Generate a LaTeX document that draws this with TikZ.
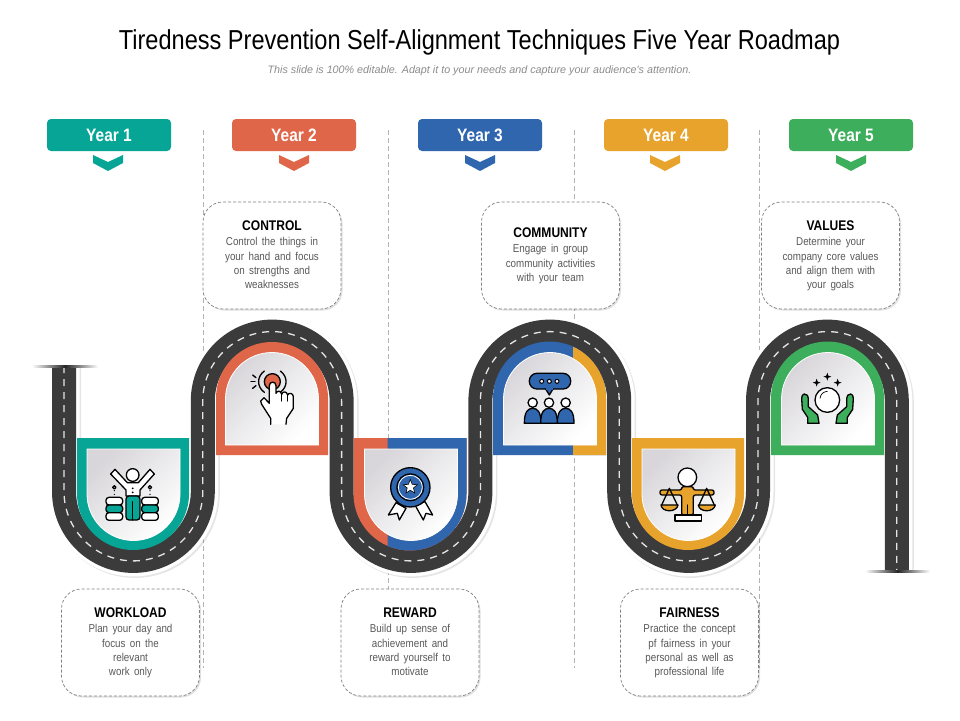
\documentclass[tikz,border=0pt]{standalone}
\usepackage{fontspec}
\setmainfont{Liberation Sans}[FakeStretch=0.86]
\newfontfamily\plainfont{Liberation Sans}
\newfontfamily\bodyfont{Liberation Sans}[FakeStretch=0.86,WordSpace=1.6]
\usetikzlibrary{shapes.geometric,shadows}
\definecolor{roadgray}{HTML}{3B3B3B}
\definecolor{yearteal}{HTML}{06A595}
\definecolor{yearred}{HTML}{E0664A}
\definecolor{yearblue}{HTML}{2F66AE}
\definecolor{yearorange}{HTML}{E8A32D}
\definecolor{yeargreen}{HTML}{3DAE5B}
\definecolor{facegray}{HTML}{D8D6DA}
\newcommand{\roadpath}{(64,-366) -- (64,-491.5) arc[start angle=180,end angle=360,radius=69.4]
 -- (202.8,-401) arc[start angle=180,end angle=0,radius=69.4]
 -- (341.6,-491.5) arc[start angle=180,end angle=360,radius=69.4]
 -- (480.4,-401) arc[start angle=180,end angle=0,radius=69.4]
 -- (619.2,-491.5) arc[start angle=180,end angle=360,radius=69.4]
 -- (758,-401) arc[start angle=180,end angle=0,radius=69.4]
 -- (896.8,-571)}
\newcommand{\lowshape}[4]{({#1-#2},-#3) -- ({#1-#2},-#4) arc[start angle=180,end angle=360,radius=#2] -- ({#1+#2},-#3) -- cycle}
\newcommand{\highshape}[4]{({#1-#2},-#3) -- ({#1-#2},-#4) arc[start angle=180,end angle=0,radius=#2] -- ({#1+#2},-#3) -- cycle}
\newcommand{\cardhead}[1]{\rule{0pt}{12pt}{\fontsize{14}{16}\selectfont\bfseries\color{black}#1}}
\newcommand{\cardend}{\rule[-4pt]{0pt}{4pt}}
\begin{document}
\begin{tikzpicture}[x=1pt,y=1pt]
\tikzstyle{yearbox}=[rounded corners=4pt,minimum width=124pt,minimum height=32pt,text=white,font=\fontsize{18}{18}\selectfont\bfseries]
\tikzstyle{cardbox}=[draw=black!50,line width=0.7pt,dash pattern=on 3pt off 2pt,fill=white,rounded corners=20pt,minimum width=138pt,minimum height=107pt,align=center,text=black!65,font=\fontsize{11.4}{14.4}\selectfont\bodyfont,drop shadow={shadow xshift=1.5pt,shadow yshift=-1.5pt,opacity=0.12,fill=black}]
\tikzstyle{yearline}=[draw=black!30,line width=0.7pt,dash pattern=on 5pt off 3pt]
\tikzstyle{innerface}=[top color=facegray,bottom color=white,shading angle=45]
\tikzstyle{zoomed}=[x=0.3333pt,y=-0.3333pt]
\tikzstyle{iconline}=[draw=black,line width=1.3pt,line join=round,line cap=round]
\useasboundingbox (0,-720) rectangle (960,0);
\fill[white] (0,-720) rectangle (960,0);
\node (title) at (479.5,-42) {\fontsize{27.4}{28}\selectfont Tiredness Prevention Self-Alignment Techniques Five Year Roadmap};
\node (subtitle) at (479.5,-71) {\fontsize{10.75}{12}\selectfont\plainfont\itshape\color{black!45} This slide is 100\% editable. Adapt it to your needs and capture your audience's attention.};
\draw[yearline] (203,-130) -- (203,-668);
\draw[yearline] (388,-130) -- (388,-668);
\draw[yearline] (574,-130) -- (574,-668);
\draw[yearline] (759,-130) -- (759,-668);
\node[yearbox,fill=yearteal] (year1) at (109,-135) {Year 1};
\node[yearbox,fill=yearred] (year2) at (294,-135) {Year 2};
\node[yearbox,fill=yearblue] (year3) at (480,-135) {Year 3};
\node[yearbox,fill=yearorange] (year4) at (666,-135) {Year 4};
\node[yearbox,fill=yeargreen] (year5) at (851,-135) {Year 5};
\foreach \cx/\col in {108/yearteal,294/yearred,480/yearblue,665/yearorange,851/yeargreen}
  \fill[\col] ({\cx-15},-155) -- (\cx,-162) -- ({\cx+15},-155) -- ({\cx+15},-163) -- (\cx,-171) -- ({\cx-15},-163) -- cycle;
\node[cardbox] (control) at (272,-255.5) {\cardhead{CONTROL}\\[1pt]Control the things in\\your hand and focus\\on strengths and\\weaknesses\cardend};
\node[cardbox] (community) at (550.5,-255.5) {\cardhead{COMMUNITY}\\[1pt]Engage in group\\community activities\\with your team\cardend};
\node[cardbox] (values) at (830.5,-255.5) {\cardhead{VALUES}\\[1pt]Determine your\\company core values\\and align them with\\your goals\cardend};
\node[cardbox] (workload) at (130.5,-642.5) {\cardhead{WORKLOAD}\\[1pt]Plan your day and\\focus on the\\relevant\\work only\cardend};
\node[cardbox] (reward) at (410,-642.5) {\cardhead{REWARD}\\[1pt]Build up sense of\\achievement and\\reward yourself to\\motivate\cardend};
\node[cardbox] (fairness) at (689.5,-642.5) {\cardhead{FAIRNESS}\\[1pt]Practice the concept\\pf fairness in your\\personal as well as\\professional life\cardend};
\draw[black,opacity=0.1,line width=31pt,xshift=1.5pt,yshift=-1.5pt] \roadpath;
\draw[white,line width=31pt] \roadpath;
\draw[roadgray,line width=24pt] \roadpath;
\draw[white!90!black,line width=1.3pt,dash pattern=on 7pt off 6pt] \roadpath;
\shade[left color=white,right color=white,middle color=black!85] (32,-367) rectangle (98,-365.5);
\shade[left color=white,right color=white,middle color=black!85] (865,-572) rectangle (930,-570.5);
\fill[yearteal] \lowshape{133}{56}{438}{494};
\fill[yearred] \highshape{272}{56}{455}{398};
\fill[yearred] \lowshape{410}{56.5}{438}{494};
\begin{scope}
\clip (387.5,-430) rectangle (480,-560);
\fill[yearblue] \lowshape{410}{56.5}{438}{494};
\end{scope}
\fill[yearblue] \highshape{549.5}{56.5}{455}{398};
\begin{scope}
\clip (573,-330) rectangle (620,-460);
\fill[yearorange] \highshape{549.5}{56.5}{455}{398};
\end{scope}
\fill[yearorange] \lowshape{688}{56}{438}{494};
\fill[yeargreen] \highshape{827.5}{56.5}{455}{398};
\foreach \cx in {133.5,411,688.5}
  \shade[innerface,draw=white,line width=0.8pt] \lowshape{\cx}{46.5}{449}{494};
\foreach \cx in {272,550,828}
  \shade[innerface,draw=white,line width=0.8pt] \highshape{\cx}{46.5}{445}{399};
\begin{scope}[shift={(90,-460)},zoomed]
\draw[iconline,fill=white] (62,42) -- (75,28) -- (112,68) -- (145,68) -- (180,28) -- (193,42) -- (150,90) -- (150,108) -- (108,108) -- (108,90) -- cycle;
\draw[iconline,fill=white] (128,45) circle[radius=19];
\fill (128,85) circle[radius=3];
\fill (128,97) circle[radius=3];
\draw[iconline,fill=yearteal,rounded corners=3pt] (108,108) rectangle (150,180);
\draw[iconline] (128,125) -- (128,180);
\foreach \sx in {48,155} {
\draw[iconline,fill=white,rounded corners=3pt] (\sx,112) rectangle ({\sx+50},135);
\draw[iconline,fill=yearteal,rounded corners=3pt] (\sx,135) rectangle ({\sx+50},158);
\draw[iconline,fill=white,rounded corners=3pt] (\sx,158) rectangle ({\sx+50},181);
\draw[iconline] ({\sx+25},82) circle[radius=5];
\fill ({\sx+25},92) circle[radius=2];
\fill ({\sx+25},103) circle[radius=2];
}
\end{scope}
\begin{scope}[shift={(240,-365)},zoomed]
\draw[iconline] (73,18) .. controls (50,35) and (50,65) .. (73,82);
\draw[iconline] (121,18) .. controls (144,35) and (144,65) .. (121,82);
\draw[iconline] (38,30) -- (48,38);
\draw[iconline] (33,50) -- (45,50);
\draw[iconline] (38,70) -- (48,62);
\draw[iconline,fill=yearred] (97,50) circle[radius=24];
\fill[white] (88,115) -- (88,62) .. controls (88,48) and (108,48) .. (108,62) -- (108,85) .. controls (112,76) and (122,76) .. (125,88) .. controls (128,78) and (140,78) .. (143,90) .. controls (146,82) and (160,84) .. (160,95) -- (160,130) -- (140,160) -- (138,178) -- (92,178) -- (92,160) -- (65,118) -- (62,108) -- (72,98) -- cycle;
\draw[iconline] (138,178) -- (140,160) -- (160,130) -- (160,95) .. controls (160,84) and (146,82) .. (143,90) .. controls (140,78) and (128,78) .. (125,88) .. controls (122,76) and (112,76) .. (108,85) -- (108,62) .. controls (108,48) and (88,48) .. (88,62) -- (88,115) -- (72,98) -- (62,108) -- (65,118) -- (92,160) -- (92,178);
\draw[iconline] (125,88) -- (125,108);
\draw[iconline] (143,90) -- (143,108);
\end{scope}
\begin{scope}[shift={(340,-320)},zoomed]
\draw[iconline,fill=white] (168,548) -- (145,585) -- (172,580) -- (178,600) -- (198,565) -- cycle;
\draw[iconline,fill=white] (225,555) -- (250,600) -- (258,580) -- (278,585) -- (255,545) -- cycle;
\draw[iconline,fill=yearblue] (211,502) circle[radius=59];
\draw[iconline] (211,502) circle[radius=40];
\draw[white,line width=0.8pt] (211,502) circle[radius=36];
\node[star,star points=5,star point ratio=2.3,fill=white,draw=black,line width=0.6pt,inner sep=0pt,minimum size=15pt] (medalstar) at (211,501) {};
\end{scope}
\begin{scope}[shift={(515,-365)},zoomed]
\draw[iconline,fill=yearblue,rounded corners=7.5pt] (43,25) rectangle (167,72);
\draw[iconline,fill=yearblue] (92,72) -- (103,90) -- (114,72);
\fill[yearblue] (93,70) rectangle (113,74);
\foreach \dx in {80,103,126}
  \draw[iconline,fill=white,line width=1pt] (\dx,49) circle[radius=6];
\foreach \hx in {53,152,102} {
\draw[iconline,fill=white] (\hx,113) circle[radius=14];
\draw[iconline,fill=yearblue] ({\hx-25},175) .. controls ({\hx-25},140) and ({\hx-14},130) .. (\hx,130) .. controls ({\hx+14},130) and ({\hx+25},140) .. ({\hx+25},175) -- cycle;
}
\end{scope}
\begin{scope}[shift={(650,-460)},zoomed]
\draw[iconline,fill=white] (112,52) circle[radius=28];
\draw[iconline,fill=yearorange,rounded corners=2pt] (95,80) -- (130,80) -- (130,90) -- (192,90) -- (192,105) -- (130,105) -- (130,165) -- (95,165) -- (95,105) -- (30,105) -- (30,90) -- (95,90) -- cycle;
\draw[iconline] (112,135) -- (112,165);
\draw[iconline,fill=white] (75,165) rectangle (155,183);
\draw[iconline] (35,135) -- (58,85) -- (82,135);
\draw[iconline] (147,135) -- (170,85) -- (193,135);
\draw[iconline,fill=yearorange] (33,135) .. controls (36,158) and (80,158) .. (84,135) -- cycle;
\draw[iconline,fill=yearorange] (145,135) .. controls (148,158) and (192,158) .. (196,135) -- cycle;
\end{scope}
\begin{scope}[shift={(795,-370)},zoomed]
\foreach \sx/\sy in {65/38,97/20,128/38}
  \fill ({\sx},{\sy-12}) -- ({\sx+3},{\sy-3}) -- ({\sx+12},\sy) -- ({\sx+3},{\sy+3}) -- (\sx,{\sy+12}) -- ({\sx-3},{\sy+3}) -- ({\sx-12},\sy) -- ({\sx-3},{\sy-3}) -- cycle;
\draw[iconline,fill=white] (97,90) circle[radius=37];
\draw[iconline,line width=0.7pt] (75,85) .. controls (77,72) and (85,65) .. (97,64);
\draw[iconline,fill=yeargreen] (28,72) .. controls (36,72) and (40,78) .. (40,85) -- (40,110) -- (68,135) -- (72,160) -- (38,160) -- (38,142) -- (22,118) -- (20,85) .. controls (20,78) and (23,72) .. (28,72) -- cycle;
\draw[iconline,fill=yeargreen] (167,72) .. controls (159,72) and (155,78) .. (155,85) -- (155,110) -- (127,135) -- (123,160) -- (157,160) -- (157,142) -- (173,118) -- (175,85) .. controls (175,78) and (172,72) .. (167,72) -- cycle;
\end{scope}
\end{tikzpicture}
\end{document}
